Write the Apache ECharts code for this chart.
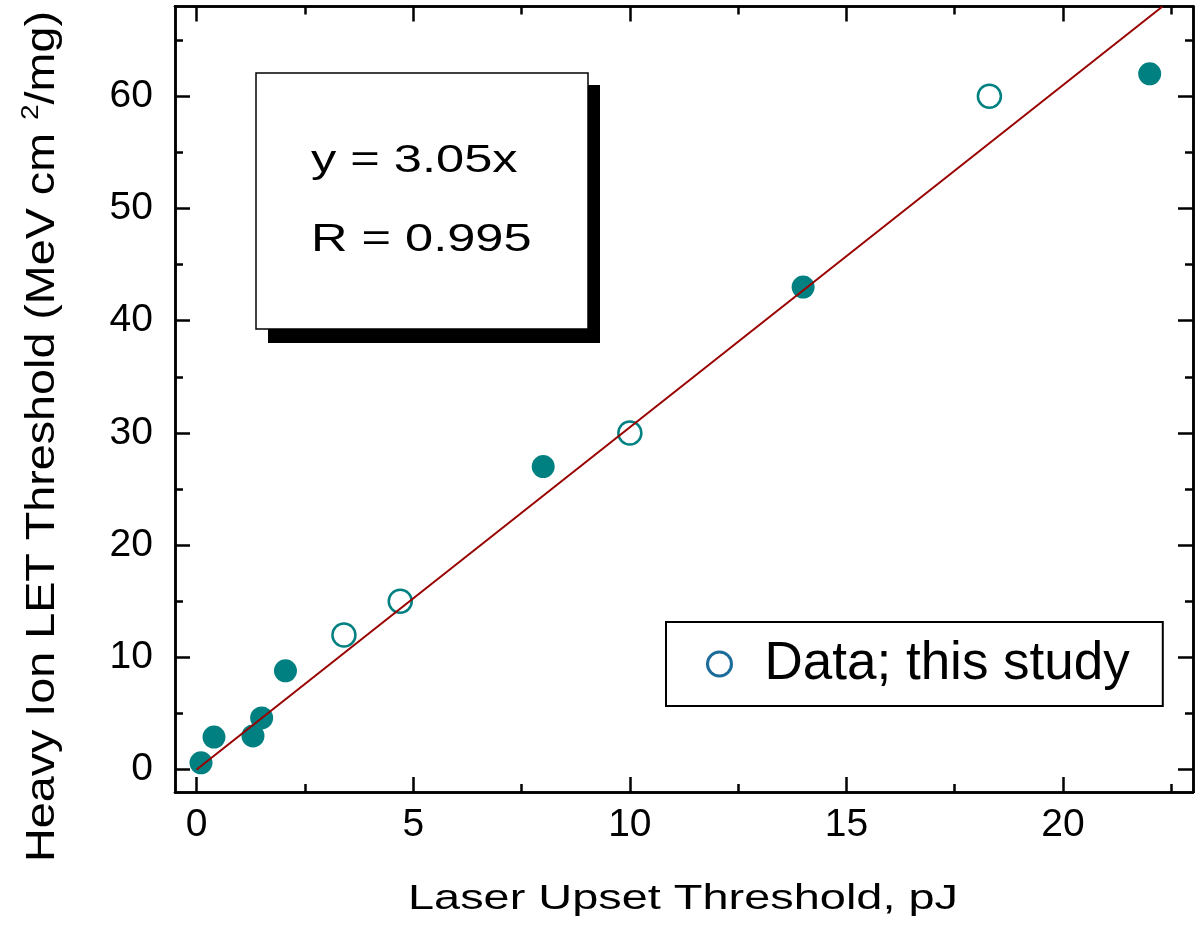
<!DOCTYPE html>
<html>
<head>
<meta charset="utf-8">
<script src="https://cdn.jsdelivr.net/npm/echarts@6/dist/echarts.min.js"></script>
<style>
  html, body { margin: 0; padding: 0; background: #fff; }
  #chart { width: 1199px; height: 933px; }
</style>
</head>
<body>
<div id="chart"></div>
<script>
// Laser upset threshold vs heavy-ion LET threshold
const OPEN_X = [3.4, 4.7, 10, 18.3];            // this study, pJ
const OPEN_Y = [12, 15, 30, 60];                 // MeV cm2/mg
const FILLED_X = [0.1, 0.4, 1.3, 1.5, 2.05, 8, 14, 22];
const FILLED_Y = [0.6, 2.9, 3.0, 4.6, 8.8, 27, 43, 62];

const SLOPE = 3.05;           // linear fit through the origin
const FIT_R = 0.995;

const X_MIN = -0.5, X_MAX = 23;
const Y_MIN = -2, Y_MAX = 68;
const X_MAJOR = [0, 5, 10, 15, 20];
const X_MINOR = [2.5, 7.5, 12.5, 17.5, 22.5];
const Y_MAJOR = [0, 10, 20, 30, 40, 50, 60];
const Y_MINOR = [5, 15, 25, 35, 45, 55, 65];

const X_TITLE = 'Laser Upset Threshold, pJ';
const LEGEND_NAME = 'Data; this study';

const FONT = '"Liberation Sans", Arial, Helvetica, sans-serif';
const TEAL = '#008080';
const FRAME = { color: '#000', width: 2.5 };

function xAxisDef(position, ticks, len, labels) {
  return {
    type: 'value', position, min: X_MIN, max: X_MAX,
    axisLine: { show: true, onZero: false, lineStyle: FRAME },
    splitLine: { show: false },
    axisTick: { show: true, inside: true, length: len, customValues: ticks, lineStyle: FRAME },
    axisLabel: labels
      ? { show: true, customValues: ticks, margin: 14, fontSize: 39, fontFamily: FONT, color: '#000' }
      : { show: false }
  };
}
function yAxisDef(position, ticks, len, labels) {
  return {
    type: 'value', position, min: Y_MIN, max: Y_MAX,
    axisLine: { show: true, onZero: false, lineStyle: FRAME },
    splitLine: { show: false },
    axisTick: { show: true, inside: true, length: len, customValues: ticks, lineStyle: FRAME },
    axisLabel: labels
      ? { show: true, customValues: ticks, margin: 22, fontSize: 39, fontFamily: FONT, color: '#000' }
      : { show: false }
  };
}

const chart = echarts.init(document.getElementById('chart'), null, { renderer: 'canvas' });

const GRID = { left: 175, top: 6.5, right: 6, bottom: 141 };

const option = {
  animation: false,
  backgroundColor: '#fff',
  grid: GRID,
  xAxis: [
    xAxisDef('bottom', X_MAJOR, 15, true),
    xAxisDef('bottom', X_MINOR, 8, false),
    xAxisDef('top', X_MAJOR, 15, false),
    xAxisDef('top', X_MINOR, 8, false)
  ],
  yAxis: [
    yAxisDef('left', Y_MAJOR, 15, true),
    yAxisDef('left', Y_MINOR, 8, false),
    yAxisDef('right', Y_MAJOR, 15, false),
    yAxisDef('right', Y_MINOR, 8, false)
  ],
  legend: {
    left: 666, top: 622,
    data: [{
      name: LEGEND_NAME, icon: 'circle',
      itemStyle: { color: '#fff', borderColor: '#1b6b9b', borderWidth: 3 }
    }],
    itemWidth: 24, itemHeight: 24, itemGap: 0,
    padding: [12, 33, 12, 40],
    borderColor: '#000', borderWidth: 2, borderRadius: 0,
    backgroundColor: '#fff',
    selectedMode: false,
    textStyle: { fontSize: 53, fontFamily: FONT, color: '#000', lineHeight: 60, padding: [0, 0, 0, 28] }
  },
  series: [
    {
      name: 'other', type: 'scatter', xAxisIndex: 0, yAxisIndex: 0,
      symbol: 'circle', symbolSize: 23,
      itemStyle: { color: TEAL, opacity: 1 },
      data: FILLED_X.map((x, i) => [x, FILLED_Y[i]]),
      z: 2
    },
    {
      name: LEGEND_NAME, type: 'scatter', xAxisIndex: 0, yAxisIndex: 0,
      symbol: 'circle', symbolSize: 23,
      itemStyle: { color: '#fff', borderColor: TEAL, borderWidth: 2.5, opacity: 1 },
      data: OPEN_X.map((x, i) => [x, OPEN_Y[i]]),
      z: 2
    },
    {
      name: 'fit', type: 'line', xAxisIndex: 0, yAxisIndex: 0,
      showSymbol: false, symbol: 'none',
      lineStyle: { color: '#990000', width: 2 },
      data: [[0, 0], [Y_MAX / SLOPE, Y_MAX]],
      z: 3, silent: true
    }
  ],
  graphic: {
    elements: [
      // fit-equation box with drop shadow
      { type: 'rect', shape: { x: 268, y: 85, width: 332, height: 258 }, style: { fill: '#000' }, z: 10 },
      { type: 'rect', shape: { x: 256, y: 73, width: 332, height: 256 },
        style: { fill: '#fff', stroke: '#000', lineWidth: 1.5 }, z: 11 },
      { type: 'text', x: 311, y: 162, scaleX: 1.33, z: 12,
        style: { text: 'y = ' + SLOPE.toFixed(2) + 'x', font: '38px ' + FONT, fill: '#000',
                 align: 'left', verticalAlign: 'middle' } },
      { type: 'text', x: 311, y: 241, scaleX: 1.33, z: 12,
        style: { text: 'R = ' + FIT_R.toFixed(3), font: '38px ' + FONT, fill: '#000',
                 align: 'left', verticalAlign: 'middle' } },
      // axis titles (widened type)
      { type: 'text', x: 683, y: 899, scaleX: 1.34, z: 12,
        style: { text: X_TITLE, font: '35px ' + FONT, fill: '#000',
                 align: 'center', verticalAlign: 'middle' } },
      { type: 'text', x: 42.5, y: 436.5, rotation: Math.PI / 2, scaleX: 1.167, z: 12,
        style: {
          text: '{n|Heavy Ion LET Threshold (MeV cm }{s|2}{n|/mg)}',
          align: 'center', verticalAlign: 'middle',
          rich: {
            n: { fontSize: 40, fontFamily: FONT, fill: '#000', lineHeight: 46 },
            s: { fontSize: 24, fontFamily: FONT, fill: '#000', lineHeight: 46, verticalAlign: 'top' }
          }
        } }
    ]
  }
};

chart.setOption(option);
</script>
</body>
</html>
